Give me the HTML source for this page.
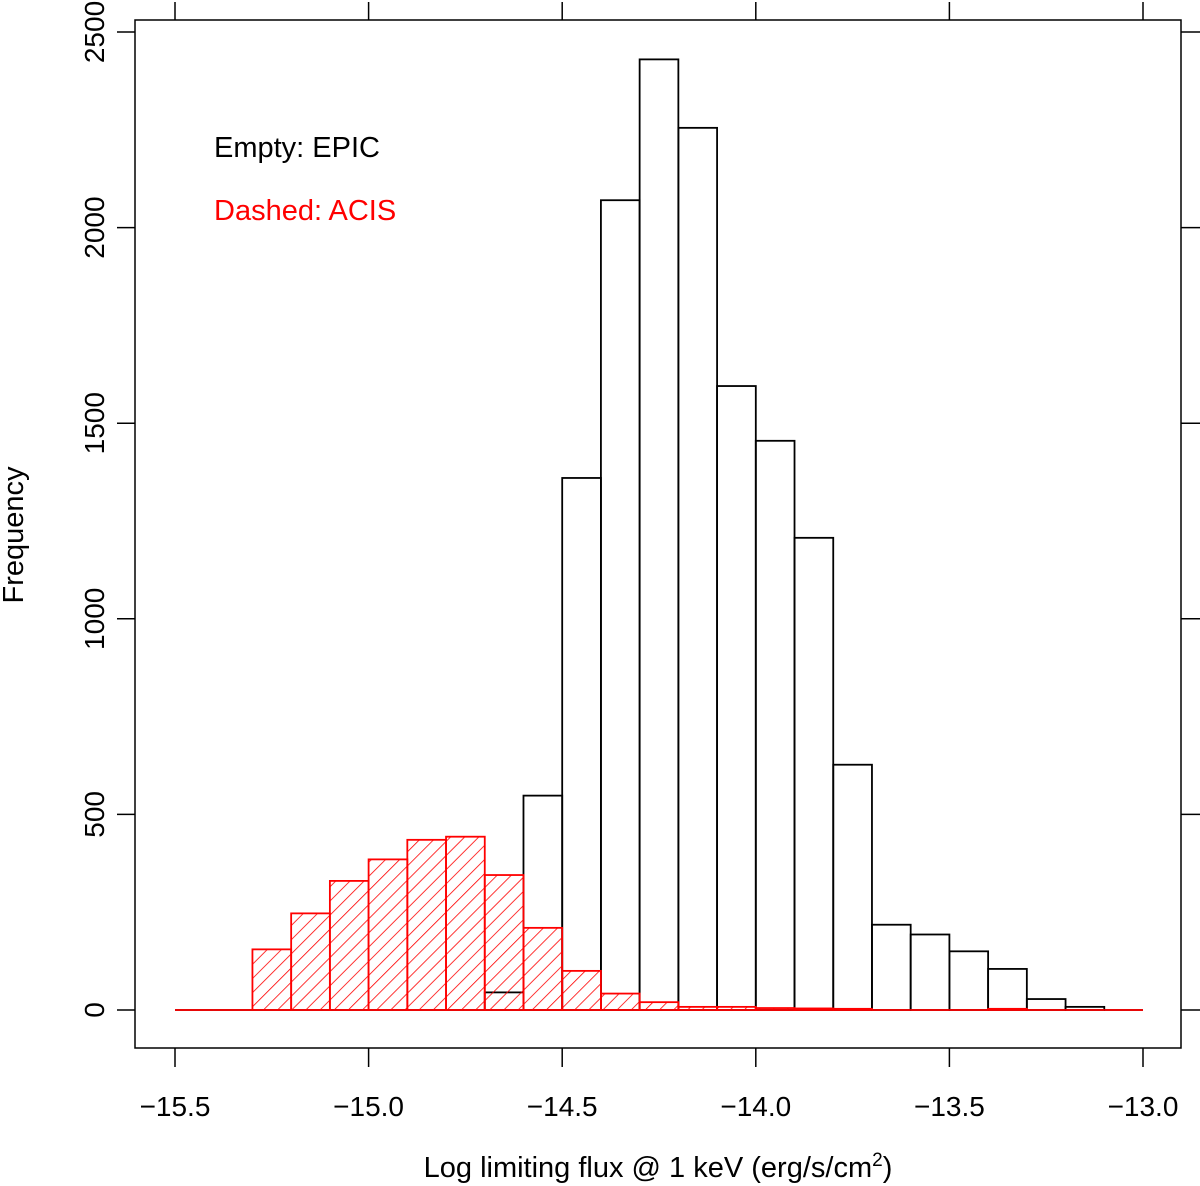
<!DOCTYPE html>
<html><head><meta charset="utf-8"><style>
html,body{margin:0;padding:0;background:#fff;}
svg text{font-family:"Liberation Sans",Arial,sans-serif;}
</style></head><body>
<svg id="chart" width="1200" height="1186" xmlns="http://www.w3.org/2000/svg" style="position:absolute;left:0;top:0">
<defs>
<pattern id="hatch" patternUnits="userSpaceOnUse" width="10" height="10" patternTransform="rotate(45)">
<line x1="0" y1="0" x2="0" y2="10" stroke="#ff0000" stroke-width="1.6"/>
</pattern>
</defs>
<g id="plot"></g>
<text x="658" y="1177" text-anchor="middle" font-size="29">Log limiting flux @ 1 keV (erg/s/cm<tspan dy="-11" font-size="19">2</tspan><tspan dy="11">)</tspan></text>
<text transform="translate(23,535) rotate(-90)" text-anchor="middle" font-size="29">Frequency</text>
<text x="214" y="157" font-size="29">Empty: EPIC</text>
<text x="214" y="220" font-size="29" fill="#ff0000">Dashed: ACIS</text>
</svg>
<script>
const binStart = -15.5;
const binWidth = 0.1;
const epicCounts = [0,0,0,0,0,0,0,0,45,548,1360,2070,2430,2255,1595,1455,1207,627,218,193,150,105,28,8,0];
const acisCounts = [0,0,155,247,330,385,435,443,345,210,100,42,20,8,8,5,4,3,1,1,1,3,0,0,0];
const xTicks = [-15.5,-15.0,-14.5,-14.0,-13.5,-13.0];
const xTickLabels = ["\u221215.5","\u221215.0","\u221214.5","\u221214.0","\u221213.5","\u221213.0"];
const yTicks = [0,500,1000,1500,2000,2500];

const NS="http://www.w3.org/2000/svg";
const g=document.getElementById('plot');
const X=v=>175+(v+15.5)*387.2;
const Y=v=>1010-v*0.3912;
function el(tag,attrs,parent){const e=document.createElementNS(NS,tag);for(const k in attrs)e.setAttribute(k,attrs[k]);(parent||g).appendChild(e);return e;}

const frame=el('rect',{x:135,y:20,width:1046,height:1028,fill:'none',stroke:'#000','stroke-width':1.5});



function bars(counts,stroke,fill,name){
  counts.forEach((c,i)=>{
    const x0=X(binStart+i*binWidth), x1=X(binStart+(i+1)*binWidth);
    const h=Y(0)-Y(c);
    if(h<0.5){
      const l=el('line',{x1:x0,y1:Y(0),x2:x1,y2:Y(0),stroke:stroke,'stroke-width':1.8});
      
      
    } else {
      const r=el('rect',{x:x0,y:Y(c),width:x1-x0,height:h,fill:fill,stroke:stroke,'stroke-width':1.8});
      
      
    }
  });
}
bars(epicCounts,'#000','none','epic-bar');
bars(acisCounts,'#ff0000','url(#hatch)','acis-bar');

xTicks.forEach((v,i)=>{
  const x=X(v);
  el('line',{x1:x,y1:1048,x2:x,y2:1067,stroke:'#000','stroke-width':1.5});
  el('line',{x1:x,y1:20,x2:x,y2:2,stroke:'#000','stroke-width':1.5});
  const t=el('text',{x:x,y:1116,'text-anchor':'middle','font-size':28});
  t.textContent=xTickLabels[i];
  
  
});
yTicks.forEach(v=>{
  const y=Y(v);
  el('line',{x1:135,y1:y,x2:117,y2:y,stroke:'#000','stroke-width':1.5});
  el('line',{x1:1181,y1:y,x2:1200,y2:y,stroke:'#000','stroke-width':1.5});
  const t=el('text',{x:0,y:0,'text-anchor':'middle','font-size':28,transform:`translate(104,${y}) rotate(-90)`});
  t.textContent=String(v);
  
  
});
</script>
</body></html>
